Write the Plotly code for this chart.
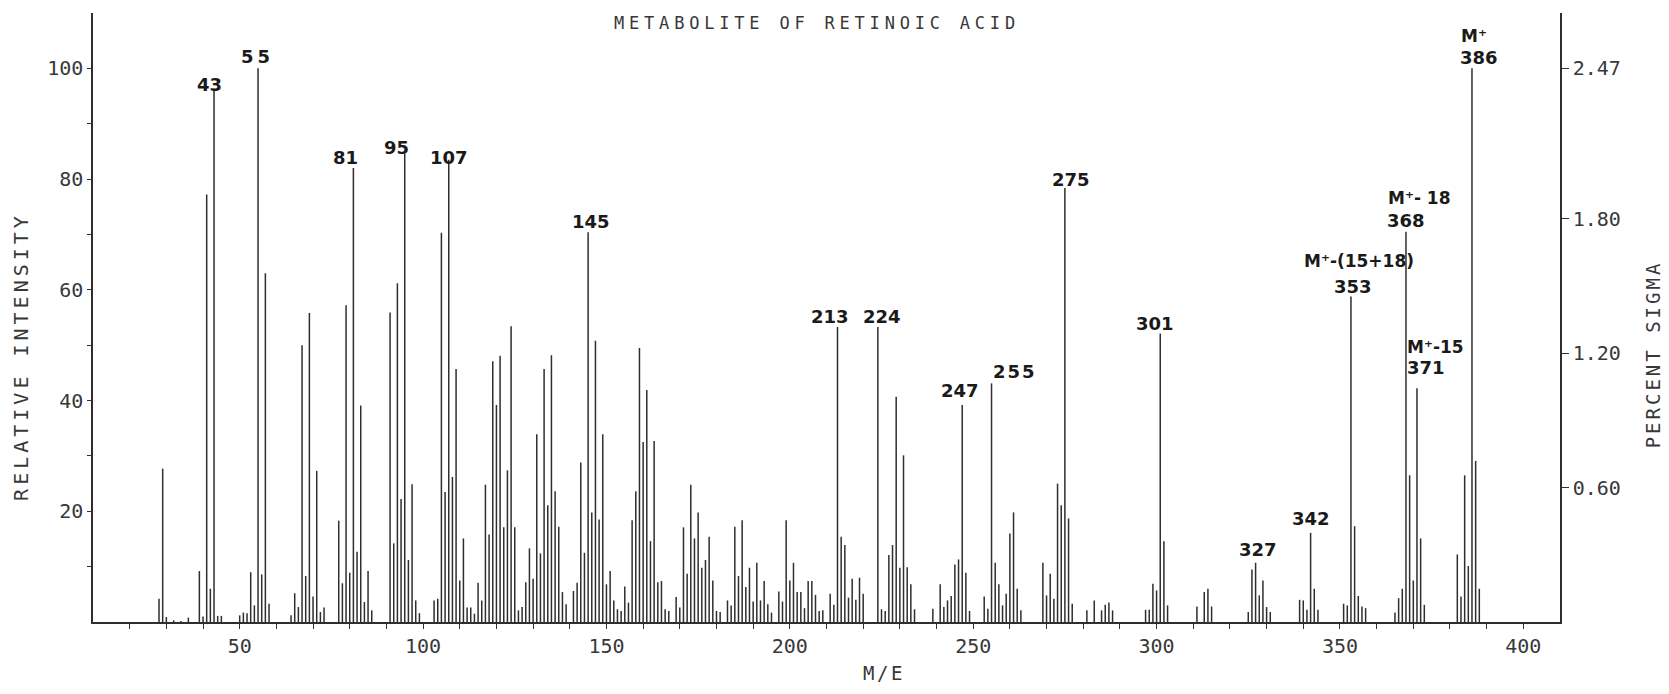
import plotly.graph_objects as go

# ---- spectrum data: m/z and relative intensity (%) ----
mz = [28, 29, 30, 32, 34, 36, 39, 40, 41, 42, 43, 44, 45,
      50, 51, 52, 53, 54, 55, 56, 57, 58,
      64, 65, 66, 67, 68, 69, 70, 71, 72, 73,
      77, 78, 79, 80, 81, 82, 83, 84, 85, 86,
      91, 92, 93, 94, 95, 96, 97, 98, 99,
      103, 104, 105, 106, 107, 108, 109, 110, 111, 112, 113, 114,
      115, 116, 117, 118, 119, 120, 121, 122, 123, 124, 125, 126, 127,
      128, 129, 130, 131, 132, 133, 134, 135, 136, 137, 138, 139,
      141, 142, 143, 144, 145, 146, 147, 148, 149, 150, 151, 152, 153, 154,
      155, 156, 157, 158, 159, 160, 161, 162, 163, 164, 165, 166, 167,
      169, 170, 171, 172, 173, 174, 175, 176, 177, 178, 179, 180, 181,
      183, 184, 185, 186, 187, 188, 189, 190, 191, 192, 193, 194, 195,
      197, 198, 199, 200, 201, 202, 203, 204, 205, 206, 207, 208, 209,
      211, 212, 213, 214, 215, 216, 217, 218, 219, 220,
      224, 225, 226, 227, 228, 229, 230, 231, 232, 233, 234,
      239, 241, 242, 243, 244, 245, 246, 247, 248, 249,
      253, 254, 255, 256, 257, 258, 259, 260, 261, 262, 263,
      269, 270, 271, 272, 273, 274, 275, 276, 277,
      281, 283, 285, 286, 287, 288,
      297, 298, 299, 300, 301, 302, 303,
      311, 313, 314, 315,
      325, 326, 327, 328, 329, 330, 331,
      339, 340, 341, 342, 343, 344,
      351, 352, 353, 354, 355, 356, 357,
      365, 366, 367, 368, 369, 370, 371, 372, 373,
      382, 383, 384, 385, 386, 387, 388]

intensity = [4.2, 27.7, 0.9, 0.3, 0.2, 0.8, 9.2, 1.0, 77.2, 6.0, 96.4, 1.1, 1.1,
             1.2, 1.7, 1.6, 9.0, 3.0, 100.0, 8.6, 63.0, 3.3,
             1.2, 5.2, 2.7, 50.0, 8.3, 55.8, 4.6, 27.3, 1.8, 2.6,
             18.3, 7.0, 57.2, 8.9, 82.0, 12.7, 39.1, 3.6, 9.2, 2.1,
             55.9, 14.2, 61.2, 22.2, 84.6, 11.2, 24.9, 3.9, 1.6,
             3.9, 4.2, 70.3, 23.5, 83.5, 26.2, 45.7, 7.5, 15.1, 2.6, 2.6, 1.5,
             7.1, 3.9, 24.8, 15.8, 47.1, 39.2, 48.1, 17.1, 27.4, 53.4, 17.1, 2.1, 2.7,
             7.2, 13.3, 7.8, 33.9, 12.4, 45.7, 21.1, 48.2, 23.6, 17.2, 5.4, 3.2,
             5.6, 7.1, 28.8, 12.5, 70.4, 19.8, 50.8, 18.5, 33.9, 6.8, 9.2, 3.9, 2.3, 2.0,
             6.4, 3.5, 18.4, 23.6, 49.5, 32.5, 41.9, 14.6, 32.7, 7.2, 7.4, 2.3, 2.0,
             4.5, 2.6, 17.1, 8.7, 24.8, 15.1, 19.8, 9.8, 11.2, 15.4, 7.5, 2.0, 1.8,
             3.9, 3.0, 17.2, 8.3, 18.4, 6.3, 9.8, 3.7, 10.7, 3.9, 7.4, 3.2, 1.7,
             5.5, 3.7, 18.4, 7.5, 10.7, 5.4, 5.4, 2.5, 7.4, 7.4, 4.9, 2.0, 2.1,
             5.1, 3.1, 53.3, 15.4, 13.9, 4.4, 7.8, 4.0, 8.0, 5.1,
             53.3, 2.3, 2.0, 12.1, 13.9, 40.7, 9.8, 30.1, 9.9, 6.8, 2.3,
             2.4, 6.8, 2.7, 3.9, 4.7, 10.4, 11.3, 39.2, 8.9, 2.0,
             4.6, 2.4, 43.1, 10.7, 6.8, 3.0, 5.1, 16.0, 19.8, 6.0, 2.1,
             10.7, 4.8, 8.7, 4.2, 25.0, 21.1, 78.4, 18.7, 3.3,
             2.1, 3.9, 2.1, 3.1, 3.5, 2.1,
             2.2, 2.2, 6.9, 5.7, 52.1, 14.6, 3.0,
             2.8, 5.4, 6.0, 2.8,
             1.8, 9.5, 10.7, 4.8, 7.5, 2.7, 1.8,
             4.0, 3.9, 2.2, 16.1, 6.0, 2.2,
             3.3, 3.0, 58.8, 17.3, 4.7, 2.8, 2.5,
             1.7, 4.3, 6.0, 70.5, 26.5, 7.5, 42.2, 15.1, 3.1,
             12.2, 4.6, 26.5, 10.1, 100.0, 29.1, 6.0]

# ---- labelled peaks (nominal m/z) and label placement in pixels ----
labelled_mz = [43, 55, 81, 95, 107, 145, 213, 224, 247, 255, 275,
               301, 327, 342, 353, 368, 371, 386]
label_dx = [-5, -1, -8, -8, 0, 3, -8, 4, -2, 23, 6, -5, 2, 0, 2, 0, 9, 7]
label_dy = [-2, 6, 5, 0, -4, 5, 4, 4, 8, 6, 2, 4, 7, 8, 4, 5, 15, 5]
label_gap = [0, 4, 0, 0, 0, 0, 0, 0, 0, 2, 0, 0, 0, 0, 0, 0, 0, 0]

# ion assignments written above the m/z value
ion_mz = [353, 368, 371, 386]
ion_text = ["M\u207a-(15+18)", "M\u207a- 18", "M\u207a-15", "M\u207a"]
ion_dx = [8, 14, 19, 2]
ion_dy = [30, 28, 36, 27]

# right-hand scale: 100 % relative intensity corresponds to 2.47 % sigma
SIGMA_AT_100 = 2.47
sigma_ticks = [0.60, 1.20, 1.80, 2.47]

x_major = list(range(50, 401, 50))
x_minor = [v for v in range(20, 401, 10) if v % 50]
y_major = list(range(20, 101, 20))
y_minor = list(range(10, 100, 20))

INK = "#2e2e2e"
TEXT_INK = "#383838"
PLOT_FONT = "DejaVu Sans Mono"
LABEL_FONT = "DejaVu Sans"


def spaced(text, px):
    if not px:
        return text
    return f'<span style="letter-spacing:{px}px">{text}</span>'


# stick spectrum: one vertical segment per m/z
seg_x, seg_y = [], []
for m, v in zip(mz, intensity):
    seg_x += [m, m, None]
    seg_y += [0, v, None]

fig = go.Figure()
fig.add_trace(go.Scatter(
    x=seg_x, y=seg_y, mode="lines",
    line=dict(color=INK, width=1.5),
    hoverinfo="skip", showlegend=False,
))
# carrier trace for the percent-sigma axis
fig.add_trace(go.Scatter(
    x=[mz[0]], y=[0], yaxis="y2", mode="markers",
    marker=dict(opacity=0), hoverinfo="skip", showlegend=False,
))

tick_font = dict(family=PLOT_FONT, size=20, color=TEXT_INK)
axis_common = dict(
    showgrid=False, zeroline=False,
    showline=True, linecolor=INK, linewidth=1.5,
    ticks="outside", tickwidth=1.3, tickcolor=INK,
    tickfont=tick_font, tickmode="array",
)

fig.update_layout(
    width=1669, height=694,
    margin=dict(l=93, r=109, t=13, b=72),
    paper_bgcolor="white", plot_bgcolor="white",
    showlegend=False,
    xaxis=dict(
        axis_common, range=[10, 410], ticklen=5,
        tickvals=x_major,
        ticktext=[str(v) for v in x_major],
        minor=dict(tickvals=x_minor, ticks="outside", ticklen=5,
                   tickwidth=1.3, tickcolor=INK),
    ),
    yaxis=dict(
        axis_common, range=[0, 110], ticklen=4,
        tickvals=y_major,
        ticktext=[str(v) for v in y_major],
        minor=dict(tickvals=y_minor, ticks="outside", ticklen=4,
                   tickwidth=1.3, tickcolor=INK),
    ),
    yaxis2=dict(
        axis_common, overlaying="y", side="right",
        range=[0, 110 * SIGMA_AT_100 / 100], ticklen=7,
        tickvals=sigma_ticks,
        ticktext=[f"{v:.2f}" for v in sigma_ticks],
    ),
)

annotations = []
peak_height = dict(zip(mz, intensity))
for m, dx, dy, gap in zip(labelled_mz, label_dx, label_dy, label_gap):
    annotations.append(dict(
        x=m, y=peak_height[m], xref="x", yref="y",
        text=spaced(str(m), gap), showarrow=False,
        xanchor="center", yanchor="bottom",
        xshift=dx, yshift=dy - 6.5,
        font=dict(family=LABEL_FONT, size=18, color="#1a1a1a", weight="bold"),
    ))
for m, t, dx, dy in zip(ion_mz, ion_text, ion_dx, ion_dy):
    annotations.append(dict(
        x=m, y=peak_height[m], xref="x", yref="y",
        text=t, showarrow=False,
        xanchor="center", yanchor="bottom",
        xshift=dx, yshift=dy - 6.5,
        font=dict(family=LABEL_FONT, size=17, color="#1a1a1a", weight="bold"),
    ))

# chart title and axis titles
annotations.append(dict(
    x=0.4938, y=0.983, xref="paper", yref="paper",
    text=spaced("METABOLITE OF RETINOIC ACID", 4.8), showarrow=False,
    xanchor="center", yanchor="middle",
    font=dict(family=PLOT_FONT, size=17, color=TEXT_INK),
))
annotations.append(dict(
    x=-0.0488, y=0.436, xref="paper", yref="paper",
    text=spaced("RELATIVE INTENSITY", 4), showarrow=False, textangle=-90,
    xanchor="center", yanchor="middle",
    font=dict(family=PLOT_FONT, size=20, color=TEXT_INK),
))
annotations.append(dict(
    x=1.0636, y=0.44, xref="paper", yref="paper",
    text=spaced("PERCENT SIGMA", 3), showarrow=False, textangle=-90,
    xanchor="center", yanchor="middle",
    font=dict(family=PLOT_FONT, size=19, color=TEXT_INK),
))
annotations.append(dict(
    x=0.539, y=-0.0833, xref="paper", yref="paper",
    text=spaced("M/E", 2.5), showarrow=False,
    xanchor="center", yanchor="middle",
    font=dict(family=PLOT_FONT, size=19, color=TEXT_INK),
))
fig.update_layout(annotations=annotations)

fig.write_html("out.html")
